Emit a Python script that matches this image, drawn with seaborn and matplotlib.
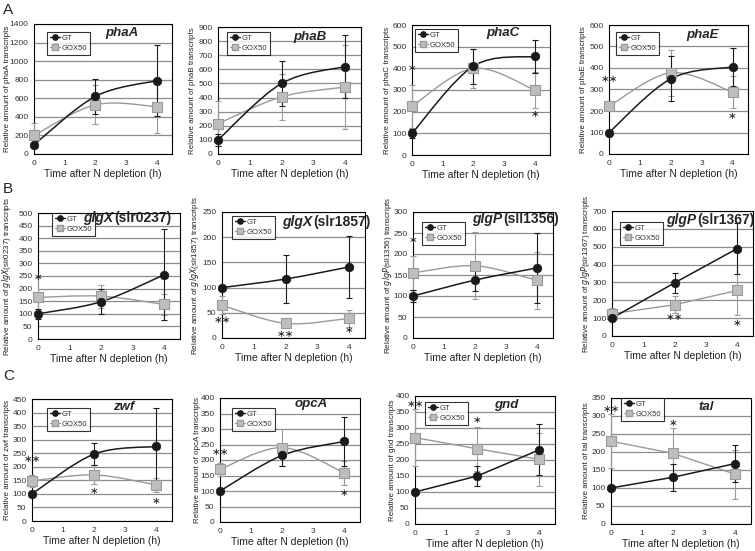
import numpy as np
import pandas as pd
import matplotlib
matplotlib.use("Agg")
import matplotlib.pyplot as plt
import seaborn as sns
from matplotlib.path import Path
from matplotlib.patches import PathPatch
from matplotlib.lines import Line2D

sns.set_style("white")
plt.rcParams["font.family"] = ["Liberation Sans", "DejaVu Sans"]

# ---------------- data ----------------
times = [0, 2, 4]
gene_names = ["phaA", "phaB", "phaC", "phaE",
              "glgX", "glgX", "glgP", "glgP",
              "zwf", "opcA", "gnd", "tal"]
gene_suffix = ["", "", "", "", "(slr0237)", "(slr1857)", "(sll1356)", "(slr1367)",
               "", "", "", ""]
gt_mean = [[100, 620, 790], [100, 500, 620], [100, 410, 455], [100, 350, 405],
           [100, 148, 255], [100, 117, 141], [100, 138, 167], [100, 298, 490],
           [100, 247, 275], [100, 215, 260], [100, 150, 232], [100, 130, 168]]
gt_err = [[15, 190, 380], [40, 160, 225], [20, 80, 75], [10, 105, 88],
          [20, 50, 180], [3, 48, 61], [15, 25, 83], [10, 55, 143],
          [10, 40, 140], [5, 35, 78], [5, 32, 80], [5, 38, 52]]
gox_mean = [[200, 530, 510], [215, 405, 475], [225, 400, 300], [222, 378, 288],
            [165, 170, 137], [65, 29, 39], [155, 172, 137], [125, 175, 255],
            [148, 170, 133], [170, 240, 158], [270, 235, 202], [230, 196, 138]]
gox_err = [[130, 210, 280], [160, 165, 300], [100, 90, 85], [10, 108, 75],
           [80, 45, 40], [18, 10, 17], [40, 80, 67], [30, 48, 140],
           [22, 35, 25], [20, 60, 40], [90, 68, 82], [75, 70, 68]]
y_max = [1400, 900, 600, 600, 500, 250, 300, 700, 450, 400, 400, 350]
y_step = [200, 100, 100, 100, 50, 50, 50, 100, 50, 50, 50, 50]
stars = [[], [], [(0, 400, "*"), (4, 190, "*")], [(0, 350, "**"), (4, 175, "*")],
         [(0, 248, "*")], [(0, 35, "**"), (2, 8, "**"), (4, 15, "*")],
         [(0, 233, "*")], [(2, 105, "**"), (4, 75, "*")],
         [(0, 230, "**"), (2, 110, "*"), (4, 75, "*")], [(0, 225, "**"), (4, 95, "*")],
         [(0, 375, "**"), (2, 325, "*")], [(0, 320, "**"), (2, 280, "*")]]
smooth = [True, True, True, True, True, True, True, False, True, True, False, False]
series_labels = ["GT", "GOX50"]
x_ticks = [0, 1, 2, 3, 4]
xlabel = "Time after N depletion (h)"
panel_letters = ["A", "B", "C"]

# ---------------- layout (pixels) ----------------
W, H = 755, 551
axes_px = [(34, 172, 24, 154), (218, 361, 27, 154), (412, 550, 25, 155), (609, 748, 25, 154),
           (38, 180, 213, 339), (222, 365, 212, 338), (413, 553, 212, 338), (612, 753, 211, 336),
           (32, 172, 399, 521), (220, 360, 398, 522), (415, 555, 396, 524), (611, 751, 398, 524)]
legend_px = [(47, 32), (227, 32), (415, 29), (616, 32),
             (52, 213), (232, 216), (422, 222), (620, 222),
             (47, 408), (232, 408), (425, 402), (621, 398)]
# centre for plain titles, left edge for titles with a suffix
title_px = [(122, 33), (310, 37), (503, 33), (703, 35),
            (83, 218), (282, 222), (472, 219), (666, 220),
            (124, 407), (311, 404), (506, 405), (706, 407)]
ylabel_x_px = [7, 192, 387, 583, 9, 197, 390, 588, 7, 197, 392, 586]
letter_px = [(3, 3), (3, 182), (3, 369)]

GT_C = "#1a1a1a"
GOX_C = "#9a9a9a"
GOX_FACE = "#bdbdbd"
TXT_C = "#222222"


def curve_path(xs, ys, is_smooth):
    pts = np.column_stack([xs, ys]).astype(float)
    verts = [pts[0]]
    codes = [Path.MOVETO]
    n = len(pts)
    for i in range(n - 1):
        if is_smooth:
            p0 = pts[i - 1] if i > 0 else pts[i]
            p3 = pts[i + 2] if i + 2 < n else pts[i + 1]
            c1 = pts[i] + (pts[i + 1] - p0) / 6.0
            c2 = pts[i + 1] - (p3 - pts[i]) / 6.0
            verts += [c1, c2, pts[i + 1]]
            codes += [Path.CURVE4] * 3
        else:
            verts.append(pts[i + 1])
            codes.append(Path.LINETO)
    return Path(verts, codes)


fig = plt.figure(figsize=(W / 100, H / 100), dpi=100)

for i in range(12):
    l, r, t, b = axes_px[i]
    ax = fig.add_axes([l / W, 1 - b / H, (r - l) / W, (b - t) / H])
    df = pd.DataFrame({
        "time": times * 2,
        "value": gt_mean[i] + gox_mean[i],
        "err": gt_err[i] + gox_err[i],
        "strain": [series_labels[0]] * 3 + [series_labels[1]] * 3,
    })
    ax.set_xlim(0, 4.5)
    ax.set_ylim(0, y_max[i])
    ax.set_yticks(np.arange(0, y_max[i] + 1, y_step[i]))
    ax.set_xticks(x_ticks)
    ax.grid(axis="y", color="#8c8c8c", lw=0.9)
    ax.set_axisbelow(True)
    for s in ax.spines.values():
        s.set_color("black")
        s.set_linewidth(0.8)
    ax.tick_params(axis="both", labelsize=6, length=2, width=0.6,
                   colors="#333333", pad=2)

    gt = df[df.strain == "GT"]
    gx = df[df.strain == "GOX50"]
    ax.errorbar(gx.time, gx.value, yerr=gx.err, fmt="none", ecolor=GOX_C,
                elinewidth=0.8, capsize=2, capthick=0.8, clip_on=False, zorder=3)
    ax.errorbar(gt.time, gt.value, yerr=gt.err, fmt="none", ecolor=GT_C,
                elinewidth=0.8, capsize=2, capthick=0.8, clip_on=False, zorder=3)
    ax.add_patch(PathPatch(curve_path(gx.time.values, gx.value.values, smooth[i]),
                           fill=False, edgecolor=GOX_C, lw=1.0, zorder=4))
    ax.add_patch(PathPatch(curve_path(gt.time.values, gt.value.values, smooth[i]),
                           fill=False, edgecolor=GT_C, lw=1.1, zorder=4))
    sns.scatterplot(data=gt, x="time", y="value", marker="o", s=38, color=GT_C,
                    edgecolor=GT_C, ax=ax, zorder=6, clip_on=False, legend=False)
    sns.scatterplot(data=gx, x="time", y="value", marker="s", s=50, color=GOX_FACE,
                    edgecolor=GOX_C, linewidth=0.8, ax=ax, zorder=5, clip_on=False,
                    legend=False)

    for (sx, sy, txt) in stars[i]:
        ax.text(sx, sy, txt.replace("*", "\u2217"), ha="center", va="center",
                fontsize=7.5, color=TXT_C, family=["DejaVu Sans"],
                zorder=7, clip_on=False)

    ax.set_xlabel(xlabel, fontsize=7.5, color=TXT_C, labelpad=2)
    if gene_suffix[i]:
        ylab = "Relative amount of $\\it{" + gene_names[i] + "}$" + gene_suffix[i] + " transcripts"
    else:
        ylab = "Relative amount of " + gene_names[i] + " transcripts"
    ax.set_ylabel(ylab, fontsize=5.8, color=TXT_C)
    ax.yaxis.set_label_coords((ylabel_x_px[i] + 4 - l) / (r - l), 0.5)

    # legend
    handles = [Line2D([], [], color=GT_C, marker="o", ms=3.8, lw=1.0),
               Line2D([], [], color=GOX_C, marker="s", ms=3.8, lw=0.9,
                      markerfacecolor=GOX_FACE, markeredgecolor=GOX_C)]
    lx, ly = legend_px[i]
    lxf = (lx - l) / (r - l)
    lyf = (b - ly) / (b - t)
    leg = ax.legend(handles, series_labels, loc="upper left", bbox_to_anchor=(lxf, lyf),
                    borderaxespad=0, fontsize=5.5, frameon=True, fancybox=False,
                    handlelength=1.3, handletextpad=0.25, borderpad=0.35,
                    labelspacing=0.35)
    leg.get_frame().set_edgecolor("black")
    leg.get_frame().set_linewidth(0.8)
    leg.set_zorder(8)
    for txt in leg.get_texts():
        txt.set_color("#333333")

    # gene title
    tx, ty = title_px[i]
    if gene_suffix[i]:
        t1 = fig.text(tx / W, 1 - ty / H, gene_names[i], fontsize=10, fontweight="bold",
                      fontstyle="italic", ha="left", va="center")
        ax.annotate(gene_suffix[i], xy=(1, 0.5), xycoords=t1, xytext=(0.5, 0),
                    textcoords="offset points", fontsize=10, fontweight="bold",
                    ha="left", va="center")
    else:
        fig.text(tx / W, 1 - ty / H, gene_names[i], fontsize=9.5, fontweight="bold",
                 fontstyle="italic", ha="center", va="center")

for k, (px, py) in enumerate(letter_px):
    fig.text(px / W, 1 - py / H, panel_letters[k], fontsize=11, ha="left", va="top")

fig.savefig("out.png", dpi=100, facecolor="white")
